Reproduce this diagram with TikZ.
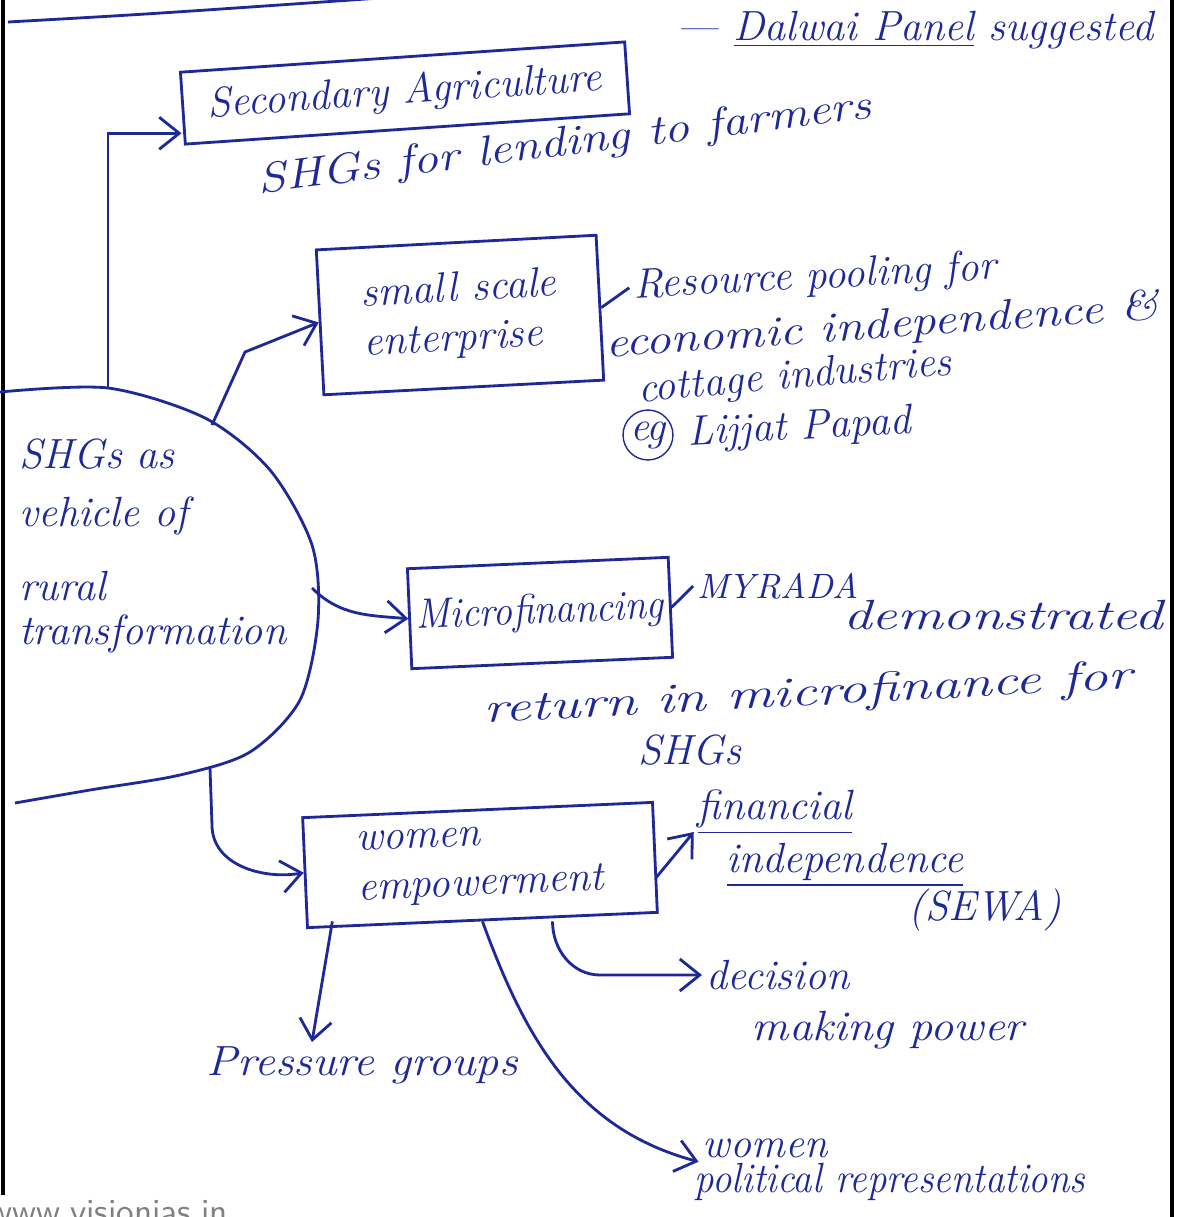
\documentclass[tikz,border=0pt]{standalone}
\usepackage{tikz}
\usetikzlibrary{arrows.meta,positioning}

\definecolor{ink}{RGB}{30,40,150}

\tikzset{
	hand/.style={text=ink, font=\large\itshape, inner sep=1pt},
	box/.style={draw=ink, thick, hand, inner sep=3pt},
	link/.style={draw=ink, thick},
	arr/.style={link, -{Straight Barb[length=2mm,width=3.2mm]}}
}

\begin{document}
\begin{tikzpicture}[x=0.01cm, y=-0.01cm]
	
	\clip (0,0) rectangle (1185,1217);
	\fill[white] (0,0) rectangle (1185,1217);
	
	% page edges
	\draw[line width=1.2pt] (3,0) -- (3,1195);
	\draw[line width=1.2pt] (1172,0) -- (1172,1217);
	\draw[link] (8,22) .. controls (150,14) .. (380,-2);
	
	% the central blob
	\draw[link] plot[smooth] coordinates {(0,392) (108,388) (205,418) (270,470) (312,545) (318,620) (300,700) (250,752) (180,775) (90,790) (15,803)};
	\node[hand, align=left, anchor=north west] (shg) at (15,435) {SHGs as\\[2.5pt] vehicle of\\[7pt] rural\\[-1.5pt] transformation};
	
	\coordinate (a1) at (108,388);
	\coordinate (a2) at (212,425);
	\coordinate (a3) at (312,588);
	\coordinate (a4) at (210,768);
	
	% boxes
	\node[box, minimum width=4.45cm, minimum height=0.72cm, rotate=3.9] (sec)  at (405,93)  {Secondary Agriculture};
	\node[box, minimum width=2.8cm,  minimum height=1.45cm, rotate=3, align=left] (sme)  at (460,315) {small scale\\ enterprise};
	\node[box, minimum height=1.0cm, inner sep=2pt, rotate=2.5, xscale=0.92] (mfin) at (540,613) {Microfinancing};
	\node[box, minimum width=3.5cm,  minimum height=1.1cm,  rotate=2.5, align=left] (wom)  at (480,865) {women\\ empowerment};
	
	% notes
	\node[hand] (dalwai) at (915,30) {--- \underline{Dalwai Panel} suggested};
	\node[hand, rotate=7, xscale=1.2] (lend) at (565,145) {SHGs for lending to farmers};
	\node[hand, rotate=3] (pool) at (815,278) {Resource pooling for};
	\node[hand, rotate=4, xscale=1.2] (econ) at (882,327) {economic independence \&};
	\node[hand, rotate=5] (cott) at (795,378) {cottage industries};
	\node[hand, draw=ink, circle, inner sep=0.5pt] (eg) at (648,435) {eg};
	\node[hand, right=1mm of eg, rotate=3] (lijjat) {Lijjat Papad};
	\node[hand, font=\normalsize\itshape] (myrada) at (778,586) {MYRADA};
	\node[hand, xscale=1.35] (demo) at (1003,615) {demonstrated};
	\node[hand, rotate=3, xscale=1.38] (ret) at (808,695) {return in microfinance for};
	\node[hand] (shgs) at (690,750) {SHGs};
	\node[hand] (fin) at (775,812) {\underline{financial}};
	\node[hand] (indep) at (845,865) {\underline{independence}};
	\node[hand] (sewa) at (985,910) {(SEWA)};
	\node[hand] (dec) at (778,975) {decision};
	\node[hand, xscale=1.1] (mpow) at (888,1030) {making power};
	\node[hand, xscale=1.1] (press) at (362,1065) {Pressure groups};
	\node[hand] (wpol) at (765,1148) {women};
	\node[hand, xscale=0.92] (pol) at (890,1182) {political representations};
	
	\node[text=gray, font=\normalsize\sffamily] (web) at (108,1212) {www.visionias.in};
	
	% links
	\draw[arr] (a1) |- ([yshift=-2.5mm]sec.west);
	\draw[arr] (a2) -- (245,352) -- (sme.west);
	\draw[arr] (a3) to[out=-45,in=175] (mfin.west);
	\draw[arr] (a4) -- (212,825) to[out=-90,in=190] (wom.west);
	\draw[link] (sme.east) -- (pool.west);
	\draw[link] (mfin.east) -- (myrada.west);
	\draw[arr] ([yshift=-2mm]wom.east) -- ([yshift=-2mm]fin.west);
	\draw[arr] ([xshift=0.7cm]wom.south) to[out=-90,in=180] (600,975) -- (dec.west);
	\draw[arr] ([xshift=-1.5cm]wom.south) -- ([xshift=-0.5cm]press.north);
	\draw[arr] (wom.south) to[out=-70,in=165] (wpol.south west);
	
\end{tikzpicture}
\end{document}
